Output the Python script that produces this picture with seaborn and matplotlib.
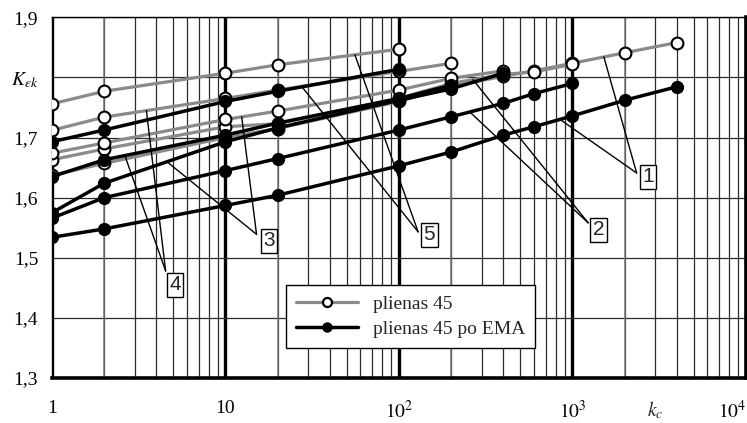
import numpy as np
import pandas as pd
import matplotlib
matplotlib.use("Agg")
import matplotlib.pyplot as plt
import matplotlib.transforms as mtransforms
import seaborn as sns
from matplotlib.lines import Line2D
from matplotlib.ticker import FixedLocator, LogLocator, NullFormatter

# cycle counts where the points were measured
kc = [1, 2, 10, 20, 100, 200, 400, 600, 1000, 2000, 4000]

# plienas 45 (grey curves, open markers), curves 1..5
raw_1 = [1.637, 1.657, 1.700, 1.715, 1.760, 1.785, 1.802, 1.811, 1.8235, 1.841, 1.858]
raw_2 = [1.663, 1.681, 1.718, 1.723, 1.765, 1.790, 1.805, 1.809, 1.822]
raw_3 = [1.674, 1.691, 1.730, 1.744, 1.779, 1.7985, 1.811]
raw_4 = [1.712, 1.734, 1.765, 1.779, 1.810, 1.8235]
raw_5 = [1.756, 1.777, 1.807, 1.821, 1.847]

# plienas 45 po EMA (black curves, filled markers)
ema_1 = [1.534, 1.548, 1.587, 1.604, 1.653, 1.676, 1.704, 1.718, 1.736, 1.762, 1.7845]
ema_2 = [1.566, 1.600, 1.645, 1.665, 1.7125, 1.7345, 1.757, 1.773, 1.790]
ema_3 = [1.575, 1.624, 1.693, 1.716, 1.762, 1.781, 1.807]
ema_4 = [1.635, 1.663, 1.704, 1.724, 1.765, 1.787]
ema_5 = [1.693, 1.7125, 1.760, 1.777, 1.8135]

raw_curves = [raw_1, raw_2, raw_3, raw_4, raw_5]
ema_curves = [ema_1, ema_2, ema_3, ema_4, ema_5]

# numbered callouts: box position, leader root, and where the legs touch the curves
callout_names = ["1", "2", "3", "4", "5"]
callout_box_x = [2720, 1410, 17.8, 5.12, 149.5]
callout_box_y = [1.635, 1.547, 1.528, 1.455, 1.538]
callout_root_x = [2344, 1233, 15.1, 4.52, 129]
callout_root_y = [1.641, 1.558, 1.539, 1.478, 1.543]
callout_raw_x = [1517, 267, 12.4, 3.5, 55.7]
callout_ema_x = [847, 256, 4.6, 2.63, 27.6]

y_ticks = [1.3, 1.4, 1.5, 1.6, 1.7, 1.8, 1.9]
y_labels = ["1,3", "1,4", "1,5", "1,6", "1,7", r"$K_{\varepsilon k}$", "1,9"]
x_ticks = [1, 10, 100, 1000, 10000]
x_labels = ["1", "10", r"$10^2$", r"$10^3$", r"$10^4$"]

rows = []
for i, (r, e) in enumerate(zip(raw_curves, ema_curves), start=1):
    for x, y in zip(kc, r):
        rows.append({"kc": x, "K": y, "curve": i, "state": "plienas 45"})
    for x, y in zip(kc, e):
        rows.append({"kc": x, "K": y, "curve": i, "state": "plienas 45 po EMA"})
df = pd.DataFrame(rows)

sns.set_theme(style="white")
plt.rcParams["font.family"] = ["Liberation Serif", "DejaVu Serif"]
plt.rcParams["mathtext.fontset"] = "stix"

GREY = "#8a8a8a"

fig = plt.figure(figsize=(7.47, 4.23), dpi=100)
ax = fig.add_axes([0.0696, 0.1064, 0.929, 0.8527])
ax.set_xscale("log")

# grey curves first, the black ones sit on top of them
raw_df = df[df.state == "plienas 45"]
sns.lineplot(data=raw_df, x="kc", y="K", units="curve", estimator=None, ax=ax,
             color=GREY, lw=2.3, marker="o", markersize=8.5,
             markerfacecolor="white", markeredgecolor="black",
             markeredgewidth=1.5, zorder=3)
ema_df = df[df.state == "plienas 45 po EMA"]
sns.lineplot(data=ema_df, x="kc", y="K", units="curve", estimator=None, ax=ax,
             color="black", lw=2.5, marker="o", markersize=8.5,
             markerfacecolor="black", markeredgecolor="black",
             markeredgewidth=1.0, zorder=4)

ax.set_xlim(1, 10000)
ax.set_ylim(1.3, 1.9)

# grid: thick decade lines, thin minor ones
ax.xaxis.set_major_locator(FixedLocator(x_ticks))
ax.xaxis.set_minor_locator(LogLocator(base=10, subs=np.arange(2, 10)))
ax.xaxis.set_minor_formatter(NullFormatter())
ax.set_xticks(x_ticks)
ax.set_xticklabels(x_labels)
ax.set_yticks(y_ticks)
ax.set_yticklabels(y_labels)
ax.grid(which="major", axis="x", color="black", lw=2.4, zorder=1)
ax.grid(which="minor", axis="x", color="#2a2a2a", lw=0.9, zorder=1)
ax.grid(which="major", axis="y", color="#2a2a2a", lw=0.9, zorder=1)
for dec in [1, 10, 100, 1000]:
    ax.axvline(2 * dec, color="#777777", lw=1.1, zorder=1.5)
ax.set_axisbelow(True)

ax.tick_params(axis="x", which="major", direction="out", length=5, width=2.4,
               pad=11, labelsize=14, colors="black")
ax.tick_params(axis="x", which="minor", length=0)
ax.tick_params(axis="y", direction="out", length=5, width=1, pad=5,
               labelsize=14, colors="black")
# last decade label sits at the figure edge, keep it inside
ax.get_xticklabels()[-1].set_horizontalalignment("right")
ax.set_xlabel("")
ax.set_ylabel("")

for side in ["left", "top"]:
    ax.spines[side].set_color("black")
    ax.spines[side].set_linewidth(1.0)
for side in ["bottom", "right"]:
    ax.spines[side].set_color("black")
    ax.spines[side].set_linewidth(2.6)

trans = mtransforms.blended_transform_factory(ax.transData, ax.transAxes)
ax.text(3000, -0.088, r"$k_c$", transform=trans, ha="center", va="center",
        fontsize=14)

# numbered callouts with two leader legs each
for name, bx, by, rx, ry, gx, ex, r, e in zip(callout_names, callout_box_x, callout_box_y,
                                              callout_root_x, callout_root_y,
                                              callout_raw_x, callout_ema_x,
                                              raw_curves, ema_curves):
    gy = np.interp(np.log10(gx), np.log10(kc[:len(r)]), r)
    ey = np.interp(np.log10(ex), np.log10(kc[:len(e)]), e)
    ax.plot([rx, gx], [ry, gy], color="black", lw=1.0, zorder=5)
    ax.plot([rx, ex], [ry, ey], color="black", lw=1.0, zorder=5)
    ax.text(bx, by, name, ha="center", va="center", fontsize=15, zorder=6,
            family=["Liberation Sans Narrow", "Liberation Sans"],
            bbox=dict(boxstyle="square,pad=0.12", fc="white", ec="black", lw=1.0))

handles = [
    Line2D([], [], color=GREY, lw=2.3, marker="o", markersize=6.5,
           markerfacecolor="white", markeredgecolor="black", markeredgewidth=1.6),
    Line2D([], [], color="black", lw=2.5, marker="o", markersize=6.5,
           markerfacecolor="black", markeredgecolor="black"),
]
leg = ax.legend(handles, ["plienas 45", "plienas 45 po EMA"], loc="lower left",
                bbox_to_anchor=(0.337, 0.084), borderaxespad=0, fontsize=14,
                handlelength=3.2, labelspacing=0.4, frameon=True, fancybox=False,
                framealpha=1, edgecolor="black", borderpad=0.5)
leg.get_frame().set_linewidth(1.0)
leg.set_zorder(7)

fig.savefig("out.png", dpi=100)
